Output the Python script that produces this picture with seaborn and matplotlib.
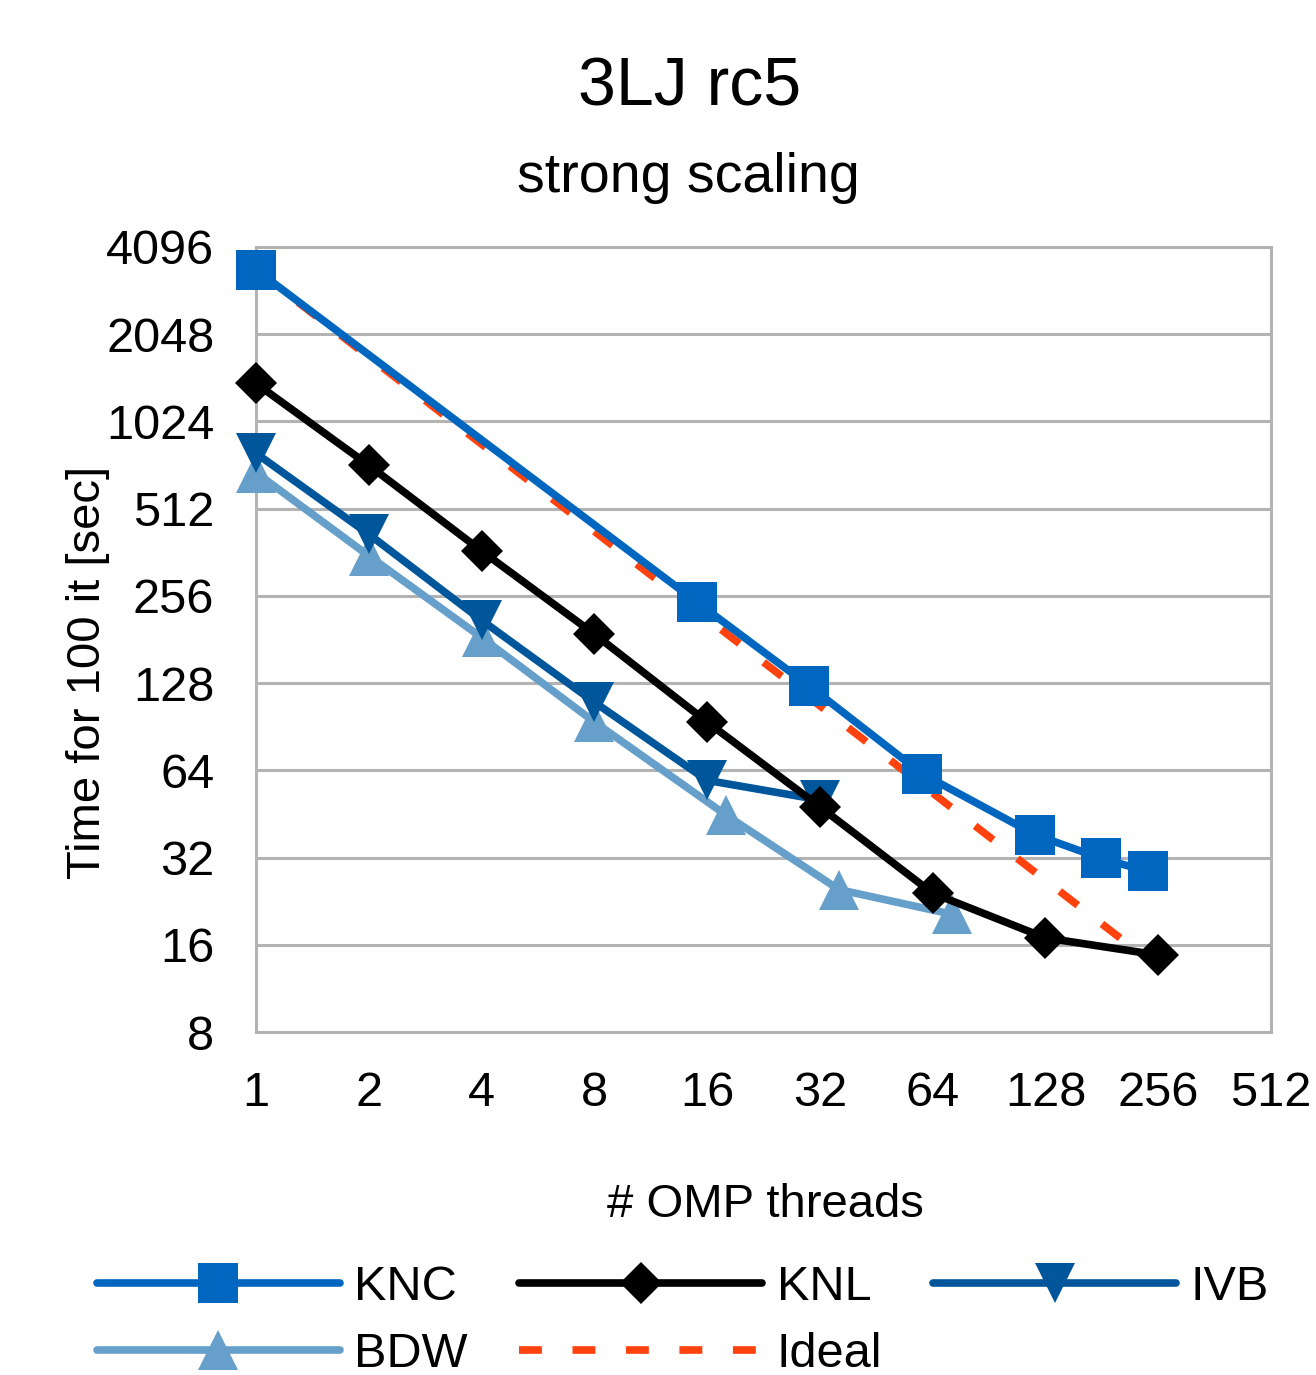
import matplotlib
matplotlib.use("Agg")
import matplotlib.pyplot as plt
import seaborn as sns
import pandas as pd
from matplotlib.ticker import FixedLocator, FixedFormatter, NullLocator

# ---- data ----
knc_threads = [1, 15, 30, 60, 120, 180, 240]
knc_time = [3420, 244, 125, 62.3, 38.4, 31.8, 28.7]

knl_threads = [1, 2, 4, 8, 16, 32, 64, 128, 256]
knl_time = [1385, 723, 366, 189, 94, 47.9, 24.1, 16.9, 14.75]

ivb_threads = [1, 2, 4, 8, 16, 32]
ivb_time = [795, 418, 211, 110, 59.1, 50.6]

bdw_threads = [1, 2, 4, 8, 18, 36, 72]
bdw_time = [682, 352, 184, 94, 44.8, 24.8, 20.4]

ideal_threads = [1, 15, 30, 60, 120, 180, 240]
ideal_time = [3420, 228, 114, 57, 28.5, 19, 14.25]

x_ticks = [1, 2, 4, 8, 16, 32, 64, 128, 256, 512]
y_ticks = [8, 16, 32, 64, 128, 256, 512, 1024, 2048, 4096]

sns.set_style("white")
plt.rcParams["font.family"] = ["Liberation Sans", "DejaVu Sans"]
plt.rcParams["text.color"] = "black"
plt.rcParams["xtick.labelcolor"] = "black"
plt.rcParams["ytick.labelcolor"] = "black"

W, H = 1316, 1375
fig = plt.figure(figsize=(W / 100, H / 100), dpi=100)
ax = fig.add_axes([256 / W, 1 - 1032 / H, (1271 - 256) / W, (1032 - 247) / H])

GRID = "#b3b3b3"

series = [
    ("Ideal", ideal_threads, ideal_time, "#ff420e", None, 0, (0, (3, 4)), 2),
    ("BDW", bdw_threads, bdw_time, "#659fca", "^", 29.5, "-", 3),
    ("IVB", ivb_threads, ivb_time, "#00569b", "v", 29.5, "-", 4),
    ("KNC", knc_threads, knc_time, "#0066bf", "s", 29.5, "-", 5),
    ("KNL", knl_threads, knl_time, "#000000", "D", 21, "-", 6),
]

for name, xs, ys, color, marker, ms, ls, z in series:
    df = pd.DataFrame({"threads": xs, "time": ys})
    kw = dict(color=color, linewidth=5.5, linestyle=ls, label=name, zorder=z,
              estimator=None, sort=False, clip_on=False)
    if marker is not None:
        kw.update(marker=marker, markersize=ms, markeredgewidth=0)
    sns.lineplot(data=df, x="threads", y="time", ax=ax, **kw)

ax.set_xscale("log", base=2)
ax.set_yscale("log", base=2)
ax.set_xlim(1, 512)
ax.set_ylim(8, 4096)

ax.xaxis.set_major_locator(FixedLocator(x_ticks))
ax.xaxis.set_major_formatter(FixedFormatter([str(v) for v in x_ticks]))
ax.yaxis.set_major_locator(FixedLocator(y_ticks))
ax.yaxis.set_major_formatter(FixedFormatter([str(v) for v in y_ticks]))
ax.xaxis.set_minor_locator(NullLocator())
ax.yaxis.set_minor_locator(NullLocator())

ax.yaxis.grid(True, color=GRID, linewidth=2.2)
ax.xaxis.grid(False)
ax.set_axisbelow(True)

for sp in ax.spines.values():
    sp.set_color(GRID)
    sp.set_linewidth(2.2)

ax.tick_params(axis="both", which="major", length=17, width=2.2, color=GRID,
               labelsize=35, direction="out", labelcolor="black")
ax.tick_params(axis="y", pad=13)
ax.tick_params(axis="x", pad=11)
ax.set_xlabel("")
ax.set_ylabel("")

# titles and axis labels
fig.text(690 / W, 1 - 106 / H, "3LJ rc5", ha="center", va="baseline", fontsize=49, color="black")
fig.text(688 / W, 1 - 192 / H, "strong scaling", ha="center", va="baseline", fontsize=40, color="black")
fig.text(88 / W, 1 - 672 / H, "Time for 100 it [sec]", rotation=90,
         ha="center", va="center", fontsize=34, color="black")
fig.text(765 / W, 1 - 1205 / H, "# OMP threads", ha="center", va="center", fontsize=34, color="black")

# legend (row-major order: KNC KNL IVB / BDW Ideal)
handles, labels = ax.get_legend_handles_labels()
if ax.get_legend() is not None:
    ax.get_legend().remove()
hmap = dict(zip(labels, handles))
order = ["KNC", "BDW", "KNL", "Ideal", "IVB"]
leg = fig.legend([hmap[k] for k in order], order, loc="center",
                 bbox_to_anchor=(0.519, 0.039), ncol=3, frameon=False, fontsize=35,
                 handlelength=5.0, handletextpad=0.3, columnspacing=1.05,
                 labelspacing=0.45)
for t in leg.get_texts():
    t.set_color("black")

fig.savefig("out.png", dpi=100)
